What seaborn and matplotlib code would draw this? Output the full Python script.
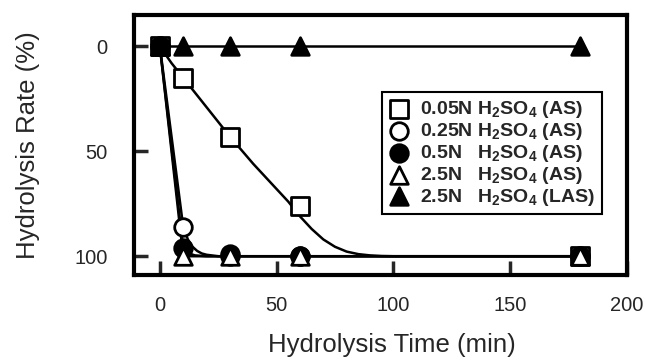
import numpy as np
import pandas as pd
import seaborn as sns
from matplotlib import pyplot as plt

# measured points
t_min = [0, 10, 30, 60, 180]
rate_005 = [0, 15, 43, 76, 100]
rate_025 = [0, 86, 100, 100, 100]
rate_05 = [0, 96, 99, 100, 100]
rate_25 = [0, 100, 100, 100, 100]
rate_25_las = [0, 0, 0, 0, 0]

# fitted curves
fit_t_005 = [0, 5, 10, 20, 30, 40, 50, 55, 60, 65, 70, 75, 80, 85, 90, 95, 100, 180]
fit_y_005 = [0, 8, 15, 29, 43, 56, 68, 74, 81, 87, 92, 95.5, 97.8, 99, 99.6, 99.9, 100, 100]
fit_t_025 = [0, 10, 12, 14, 16, 18, 20, 25, 30, 180]
fit_y_025 = [0, 86, 92, 95.5, 97.5, 98.7, 99.3, 100, 100, 100]
fit_t_05 = [0, 10, 12, 15, 20, 180]
fit_y_05 = [0, 96, 98.5, 99.6, 100, 100]
fit_t_25 = [0, 10, 180]
fit_y_25 = [0, 100, 100]
fit_t_25_las = [0, 180]
fit_y_25_las = [0, 0]

labels = [r"0.05N H$_2$SO$_4$ (AS)",
          r"0.25N H$_2$SO$_4$ (AS)",
          r"0.5N   H$_2$SO$_4$ (AS)",
          r"2.5N   H$_2$SO$_4$ (AS)",
          r"2.5N   H$_2$SO$_4$ (LAS)"]

sns.set_style("ticks")
plt.rcParams['font.family'] = ['Liberation Sans', 'DejaVu Sans']
plt.rcParams['mathtext.fontset'] = 'custom'
plt.rcParams['mathtext.rm'] = 'Liberation Sans:bold'
plt.rcParams['mathtext.default'] = 'rm'

fig = plt.figure(figsize=(6.45, 3.62), dpi=100)
ax = fig.add_axes([0.208, 0.240, 0.764, 0.719])

fits = [(fit_t_005, fit_y_005), (fit_t_025, fit_y_025), (fit_t_05, fit_y_05),
        (fit_t_25, fit_y_25), (fit_t_25_las, fit_y_25_las)]
for ft, fy in fits:
    sns.lineplot(x=ft, y=fy, ax=ax, color='black', linewidth=1.8,
                 sort=False, estimator=None, zorder=2)

series = [(rate_005, 's', 'white'), (rate_025, 'o', 'white'), (rate_05, 'o', 'black'),
          (rate_25, '^', 'white'), (rate_25_las, '^', 'black')]
for (vals, mk, fc), lab in zip(series, labels):
    sns.scatterplot(x=t_min, y=vals, ax=ax, marker=mk, s=160, facecolor=fc,
                    edgecolor='black', linewidth=2, label=lab, zorder=3)

ax.set_xlim(-11, 200)
ax.set_ylim(109, -15)
ax.set_xticks([0, 50, 100, 150, 200])
ax.set_yticks([0, 50, 100])

for sp in ax.spines.values():
    sp.set_linewidth(3)
    sp.set_color('black')
ax.tick_params(direction='in', length=10, width=2.5, labelsize=14.5,
               top=False, right=False)
ax.tick_params(axis='y', pad=19)
ax.tick_params(axis='x', pad=15)

ax.set_xlabel("Hydrolysis Time (min)", fontsize=18.5)
ax.set_ylabel("Hydrolysis Rate (%)", fontsize=18.5, labelpad=25)
ax.xaxis.set_label_coords(0.523, -0.222)

leg = ax.legend(loc='upper right', bbox_to_anchor=(0.949, 0.704), fancybox=False,
                framealpha=1, edgecolor='black', handletextpad=0.6,
                handlelength=1.0, labelspacing=0.05, borderpad=0.35,
                borderaxespad=0, prop={'weight': 'bold', 'size': 14})
leg.get_frame().set_linewidth(1.5)

fig.savefig("out.png", dpi=100)
